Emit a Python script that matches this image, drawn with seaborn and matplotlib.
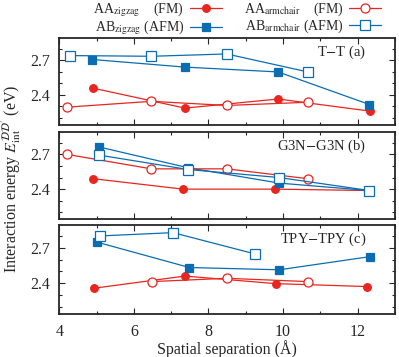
import numpy as np
import pandas as pd
import seaborn as sns
import matplotlib
matplotlib.use("Agg")
import matplotlib.pyplot as plt
from matplotlib.ticker import MultipleLocator

# ---- data ----
# panel (a) T-T
tt_aa_zig_x = [4.91, 7.37, 9.87, 12.33]
tt_aa_zig_y = [2.457, 2.284, 2.363, 2.258]
tt_ab_zig_x = [4.89, 7.37, 9.87, 12.32]
tt_ab_zig_y = [2.706, 2.640, 2.598, 2.315]
tt_aa_arm_x = [4.20, 6.47, 8.49, 10.67]
tt_aa_arm_y = [2.292, 2.343, 2.307, 2.335]
tt_ab_arm_x = [4.30, 6.47, 8.49, 10.67]
tt_ab_arm_y = [2.740, 2.734, 2.754, 2.598]

# panel (b) G3N-G3N
g3n_aa_zig_x = [4.91, 7.32, 9.78, 12.29]
g3n_aa_zig_y = [2.490, 2.400, 2.400, 2.388]
g3n_ab_zig_x = [5.06, 7.46, 9.90, 12.32]
g3n_ab_zig_y = [2.764, 2.584, 2.452, 2.388]
g3n_aa_arm_x = [4.20, 6.47, 8.49, 10.67]
g3n_aa_arm_y = [2.700, 2.575, 2.575, 2.490]
g3n_ab_arm_x = [5.06, 7.46, 9.90, 12.32]
g3n_ab_arm_y = [2.694, 2.569, 2.500, 2.388]

# panel (c) TPY-TPY
tpy_aa_zig_x = [4.93, 7.37, 9.80, 12.26]
tpy_aa_zig_y = [2.358, 2.461, 2.397, 2.372]
tpy_ab_zig_x = [5.02, 7.49, 9.90, 12.33]
tpy_ab_zig_y = [2.747, 2.533, 2.514, 2.625]
tpy_aa_arm_x = [6.48, 8.49, 10.67]
tpy_aa_arm_y = [2.414, 2.442, 2.414]
tpy_ab_arm_x = [5.09, 7.05, 9.26]
tpy_ab_arm_y = [2.800, 2.828, 2.647]

panel_titles = ["T$-$T (a)", "G3N$-$G3N (b)", "TPY$-$TPY (c)"]
labels = ["AA$_{\\rm zigzag}$    (FM)", "AB$_{\\rm zigzag}$ (AFM)",
          "AA$_{\\rm armchair}$    (FM)", "AB$_{\\rm armchair}$ (AFM)"]

panels = [
    [(tt_aa_zig_x, tt_aa_zig_y), (tt_ab_zig_x, tt_ab_zig_y),
     (tt_aa_arm_x, tt_aa_arm_y), (tt_ab_arm_x, tt_ab_arm_y)],
    [(g3n_aa_zig_x, g3n_aa_zig_y), (g3n_ab_zig_x, g3n_ab_zig_y),
     (g3n_aa_arm_x, g3n_aa_arm_y), (g3n_ab_arm_x, g3n_ab_arm_y)],
    [(tpy_aa_zig_x, tpy_aa_zig_y), (tpy_ab_zig_x, tpy_ab_zig_y),
     (tpy_aa_arm_x, tpy_aa_arm_y), (tpy_ab_arm_x, tpy_ab_arm_y)],
]

RED = "#e8251f"
BLUE = "#0a6db1"
styles = [
    dict(color=RED, marker="o", markersize=5.5, markerfacecolor=RED, markeredgecolor=RED),
    dict(color=BLUE, marker="s", markersize=5.5, markerfacecolor=BLUE, markeredgecolor=BLUE),
    dict(color=RED, marker="o", markersize=6.5, markerfacecolor="white", markeredgecolor=RED),
    dict(color=BLUE, marker="s", markersize=6.5, markerfacecolor="white", markeredgecolor=BLUE),
]

sns.set_theme(style="ticks")
plt.rcParams["font.family"] = ["Liberation Serif", "DejaVu Serif"]
plt.rcParams["mathtext.fontset"] = "stix"
plt.rcParams["xtick.direction"] = "in"
plt.rcParams["ytick.direction"] = "in"

fig = plt.figure(figsize=(3.99, 3.57), dpi=100)
boxes = [(0.1486, 0.6507, 0.841, 0.242),
         (0.1486, 0.3857, 0.841, 0.2437),
         (0.1486, 0.1204, 0.841, 0.2485)]

handles = []
for i, (box, series) in enumerate(zip(boxes, panels)):
    ax = fig.add_axes(box)
    for j, (xs, ys) in enumerate(series):
        df = pd.DataFrame({"x": xs, "y": ys})
        sns.lineplot(data=df, x="x", y="y", ax=ax, linewidth=0.9,
                     markeredgewidth=0.9, label=labels[j], legend=False,
                     **styles[j])
    if i == 0:
        handles = ax.get_lines()
    ax.set_xlim(4, 13)
    ax.set_ylim(2.14, 2.89)
    ax.set_yticks([2.4, 2.7])
    ax.yaxis.set_minor_locator(MultipleLocator(0.1))
    ax.xaxis.set_major_locator(MultipleLocator(2))
    ax.xaxis.set_minor_locator(MultipleLocator(1))
    ax.tick_params(which="both", top=True, right=True, labelsize=11.5)
    ax.tick_params(which="major", length=4, width=0.8)
    ax.tick_params(which="minor", length=2.5, width=0.8)
    ax.tick_params(axis="x", which="major", pad=7)
    ax.tick_params(axis="y", which="major", pad=6.5)
    for s in ax.spines.values():
        s.set_linewidth(1.3)
    ax.set_xlabel("")
    ax.set_ylabel("")
    if i < 2:
        ax.tick_params(labelbottom=False)
    else:
        ax.set_xlabel("Spatial separation (Å)", fontsize=11.5, labelpad=0)
    ax.text(0.915, 0.84, panel_titles[i], transform=ax.transAxes,
            ha="right", va="center", fontsize=10.5)

fig.text(0.03, 0.5, "Interaction energy $E_{\\rm int}^{\\mathcal{D}\\mathcal{D}'}$ (eV)",
         rotation=90, ha="center", va="center", fontsize=11.5)

fig.legend(handles, labels, loc="upper center", bbox_to_anchor=(0.595, 1.035),
           ncol=2, frameon=False, markerfirst=False, fontsize=10,
           handlelength=2.3, columnspacing=1.6, labelspacing=0.0,
           handletextpad=0.4)

fig.savefig("out.png", dpi=100)
